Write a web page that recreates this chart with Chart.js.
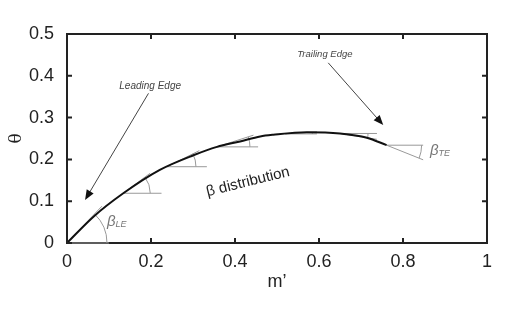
<!DOCTYPE html>
<html>
<head>
<meta charset="utf-8">
<script src="https://cdn.jsdelivr.net/npm/chart.js@4"></script>
<style>
  html, body { margin: 0; padding: 0; background: #fff; }
  #wrap { width: 514px; height: 315px; }
</style>
</head>
<body>
<div id="wrap"><canvas id="thetaChart" width="514" height="315"></canvas></div>
<script>
// camber curve theta(m')
const mPrime = [0, 0.063, 0.134, 0.221, 0.301, 0.357, 0.412, 0.46, 0.491, 0.571, 0.65, 0.714, 0.761];
const theta  = [0, 0.063, 0.119, 0.175, 0.21, 0.23, 0.243, 0.255, 0.259, 0.265, 0.262, 0.252, 0.234];

// angle markers: vertex, end of tangent line, end of horizontal line
const markVertexM = [0, 0.134, 0.238, 0.357, 0.52, 0.65, 0.761];
const markVertexT = [0, 0.119, 0.1825, 0.23, 0.261, 0.262, 0.234];
const markTanM    = [0.083, 0.198, 0.315, 0.444, 0.595, 0.738, 0.848];
const markTanT    = [0.088, 0.167, 0.221, 0.258, 0.266, 0.248, 0.199];
const markHorzM   = [0.1, 0.225, 0.333, 0.455, 0.595, 0.738, 0.848];
const markRadius  = [40, 27, 29, 33, 27, 28, 35];

// arrows: [startM, startT, endM, endT]
const leArrow = [0.194, 0.358, 0.043, 0.103];
const teArrow = [0.622, 0.431, 0.753, 0.282];

const fontFam = '"Liberation Sans", Arial, sans-serif';

function drawArrow(ctx, x1, y1, x2, y2) {
    const ang = Math.atan2(y2 - y1, x2 - x1);
    const L = 10, w = 4;
    ctx.beginPath();
    ctx.moveTo(x1, y1);
    ctx.lineTo(x2 - Math.cos(ang) * 4, y2 - Math.sin(ang) * 4);
    ctx.stroke();
    ctx.beginPath();
    ctx.moveTo(x2, y2);
    ctx.lineTo(x2 - L * Math.cos(ang) + w * Math.sin(ang), y2 - L * Math.sin(ang) - w * Math.cos(ang));
    ctx.lineTo(x2 - L * Math.cos(ang) - w * Math.sin(ang), y2 - L * Math.sin(ang) + w * Math.cos(ang));
    ctx.closePath();
    ctx.fill();
}

function drawBeta(ctx, x, y, sub) {
    ctx.fillStyle = '#777';
    ctx.textAlign = 'left';
    ctx.textBaseline = 'alphabetic';
    ctx.font = 'italic 15px ' + fontFam;
    ctx.fillText('β', x, y);
    const w = ctx.measureText('β').width;
    ctx.font = 'italic 9px ' + fontFam;
    ctx.fillText(sub, x + w, y + 1);
}

const annotations = {
    id: 'annotations',
    beforeDatasetsDraw(chart) {
        const { ctx, scales: { x, y } } = chart;
        ctx.save();
        ctx.strokeStyle = '#999';
        ctx.lineWidth = 1;
        markVertexM.forEach((m, i) => {
            const vx = x.getPixelForValue(m), vy = y.getPixelForValue(markVertexT[i]);
            const tx = x.getPixelForValue(markTanM[i]), ty = y.getPixelForValue(markTanT[i]);
            const hx = x.getPixelForValue(markHorzM[i]);
            ctx.beginPath();
            ctx.moveTo(vx, vy); ctx.lineTo(tx, ty);
            ctx.moveTo(vx, vy); ctx.lineTo(hx, vy);
            ctx.stroke();
            const a = Math.atan2(ty - vy, tx - vx);
            ctx.beginPath();
            ctx.arc(vx, vy, markRadius[i], Math.min(a, 0), Math.max(a, 0));
            ctx.stroke();
        });
        ctx.restore();
    },
    afterDraw(chart) {
        const { ctx, chartArea: a, scales: { x, y } } = chart;
        ctx.save();
        // top and right frame
        ctx.strokeStyle = '#222';
        ctx.lineWidth = 2;
        ctx.beginPath();
        ctx.moveTo(a.left - 1, a.top);
        ctx.lineTo(a.right, a.top);
        ctx.lineTo(a.right, a.bottom + 1);
        ctx.stroke();
        // inward ticks on all four sides
        ctx.beginPath();
        x.ticks.forEach(t => {
            const X = x.getPixelForValue(t.value);
            ctx.moveTo(X, a.bottom); ctx.lineTo(X, a.bottom - 5);
            ctx.moveTo(X, a.top); ctx.lineTo(X, a.top + 5);
        });
        y.ticks.forEach(t => {
            const Y = y.getPixelForValue(t.value);
            ctx.moveTo(a.left, Y); ctx.lineTo(a.left + 5, Y);
            ctx.moveTo(a.right, Y); ctx.lineTo(a.right - 5, Y);
        });
        ctx.stroke();

        // arrows
        ctx.strokeStyle = '#444';
        ctx.fillStyle = '#111';
        ctx.lineWidth = 1;
        [leArrow, teArrow].forEach(ar => {
            drawArrow(ctx, x.getPixelForValue(ar[0]), y.getPixelForValue(ar[1]),
                x.getPixelForValue(ar[2]), y.getPixelForValue(ar[3]));
        });

        // labels
        ctx.fillStyle = '#444';
        ctx.textAlign = 'center';
        ctx.textBaseline = 'middle';
        ctx.font = 'italic 10px ' + fontFam;
        ctx.fillText('Leading Edge', x.getPixelForValue(0.198), y.getPixelForValue(0.375));
        ctx.font = 'italic 9.5px ' + fontFam;
        ctx.fillText('Trailing Edge', x.getPixelForValue(0.614), y.getPixelForValue(0.452));

        ctx.save();
        ctx.translate(x.getPixelForValue(0.431), y.getPixelForValue(0.146));
        ctx.rotate(-14 * Math.PI / 180);
        ctx.fillStyle = '#222';
        ctx.font = '15px ' + fontFam;
        ctx.fillText('β distribution', 0, 0);
        ctx.restore();

        drawBeta(ctx, x.getPixelForValue(0.095), y.getPixelForValue(0.041), 'LE');
        drawBeta(ctx, x.getPixelForValue(0.864), y.getPixelForValue(0.21), 'TE');
        ctx.restore();
    }
};

const ctx = document.getElementById('thetaChart').getContext('2d');

window.thetaChartInstance = new Chart(ctx, {
    type: 'scatter',
    data: {
        datasets: [{
            label: 'theta',
            data: mPrime.map((m, i) => ({ x: m, y: theta[i] })),
            showLine: true,
            borderColor: '#111',
            borderWidth: 2,
            pointRadius: 0,
            cubicInterpolationMode: 'monotone',
            fill: false
        }]
    },
    options: {
        responsive: false,
        animation: false,
        layout: { padding: { left: 0, top: 34, right: 27, bottom: 0 } },
        plugins: {
            legend: { display: false },
            tooltip: { enabled: false }
        },
        scales: {
            x: {
                type: 'linear',
                min: 0,
                max: 1,
                grid: { display: false },
                border: { color: '#222', width: 2 },
                ticks: {
                    stepSize: 0.2,
                    padding: 0,
                    color: '#222',
                    font: { family: fontFam, size: 18 },
                    callback: v => Number(v.toFixed(1)).toString()
                },
                title: {
                    display: true,
                    text: 'm’',
                    color: '#222',
                    font: { family: fontFam, size: 18 },
                    padding: { top: 22, bottom: 22 }
                },
                afterFit: s => { s.height = 72; }
            },
            y: {
                min: 0,
                max: 0.5,
                grid: { display: false },
                border: { color: '#222', width: 2 },
                ticks: {
                    stepSize: 0.1,
                    padding: 5,
                    color: '#222',
                    font: { family: fontFam, size: 18 },
                    callback: v => Number(v.toFixed(1)).toString()
                },
                title: {
                    display: true,
                    text: 'θ',
                    color: '#222',
                    font: { family: '"DejaVu Serif", serif', size: 17 },
                    padding: { top: 6, bottom: 6 }
                },
                afterFit: s => { s.width = 67; }
            }
        }
    },
    plugins: [annotations]
});
</script>
</body>
</html>
